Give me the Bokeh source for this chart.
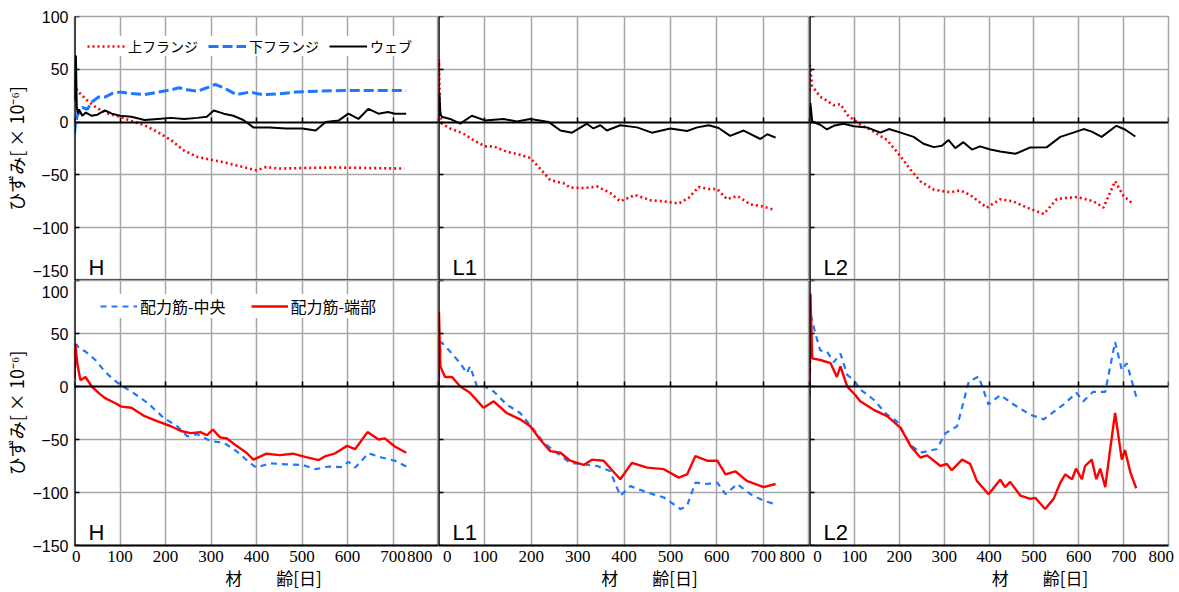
from bokeh.plotting import figure
from bokeh.layouts import column, row
from bokeh.models import (FixedTicker, LinearAxis, Range1d, Legend, LegendItem,
                          Label, Grid)
from bokeh.embed import file_html
from bokeh.resources import INLINE

# ---------------- data (strain x10^-6 vs age in days) ----------------
# Top row: flanges / web
H_upper_day = [0, 3, 10, 24, 40, 53, 74, 100, 125, 154, 183, 212, 241, 270, 300, 328, 356, 385, 400, 421, 450, 501, 573, 646, 725]
H_upper_val = [36, 32, 28, 22, 16, 12.6, 8, 5, 1, -3, -9.5, -17, -27, -33, -35.6, -38, -41, -44, -45.7, -42.6, -44, -43.5, -43, -43.5, -44]
H_lower_day = [0, 2, 6, 17, 28, 38, 53, 67, 82, 100, 125, 154, 183, 212, 230, 248, 270, 291, 309, 328, 356, 385, 414, 450, 487, 537, 609, 682, 729]
H_lower_val = [-11, -2, 6, 14, 12, 19, 23.7, 23.7, 27, 28.4, 27, 26, 28.4, 30.6, 32.5, 30.6, 29.3, 32.5, 35.6, 32.5, 26, 28.4, 26, 26.8, 28.4, 29.3, 30, 30, 30]
H_web_day = [0, 3, 5, 7, 10, 17, 25, 38, 50, 67, 82, 100, 125, 154, 183, 212, 241, 270, 291, 306, 328, 349, 371, 393, 429, 465, 501, 530, 552, 581, 602, 624, 646, 668, 689, 704, 729]
H_web_val = [20, 63, 15, 8, 12, 6, 9, 6, 7, 11, 8, 6, 5, 2, 3, 4, 3, 4, 5, 11, 8, 6, 2, -5, -5, -6, -6, -8, 0, 1.6, 8, 3, 12.6, 8, 9.5, 8, 8]

L1_upper_day = [0, 1, 3, 7, 25, 54, 75, 100, 119, 147, 176, 198, 219, 241, 270, 284, 313, 342, 370, 392, 424, 457, 486, 518, 539, 561, 583, 601, 622, 644, 673, 701, 723]
L1_upper_val = [5, 59, 10, -1.5, -6, -11, -17, -23, -23, -28, -31, -34, -44, -55, -58, -62, -62.5, -61, -67, -75, -69, -74, -75, -77, -72, -61.5, -63.4, -63.4, -73, -70, -78, -80, -83]
L1_web_day = [0, 2, 4, 7, 25, 47, 72, 100, 140, 169, 198, 238, 263, 288, 320, 334, 349, 363, 392, 428, 460, 500, 536, 558, 583, 604, 629, 658, 694, 709, 727]
L1_web_val = [5, 28, 8, 5, 3, -1.5, 6, 1.6, 3, 0.6, 3, 0, -8, -10, -1.5, -6, -3, -8, -3, -5, -10, -6, -8.4, -5, -3, -5.6, -13, -8, -16, -11.5, -14.7]

L2_upper_day = [0, 1, 6, 24, 36, 54, 69, 84, 99, 114, 143, 173, 203, 225, 247, 277, 314, 336, 358, 395, 425, 453, 485, 522, 551, 566, 596, 633, 655, 681, 700, 722]
L2_upper_val = [30, 54, 34, 24, 21, 16, 17, 7, 2, -2.5, -9, -17, -32.5, -45, -56, -64, -66.5, -64.7, -69, -81, -73, -75, -81, -87, -73, -72, -71, -75, -81, -56, -70, -78]
L2_web_day = [0, 2, 6, 24, 39, 54, 76, 99, 128, 158, 177, 203, 232, 254, 277, 295, 310, 325, 343, 362, 380, 403, 425, 459, 492, 529, 559, 588, 611, 629, 651, 684, 703, 726]
L2_web_val = [5, 18, 0.6, -2.5, -7, -3.5, -1.6, -4, -5, -10, -6.6, -10, -14, -20.5, -23.7, -22.4, -17, -24.6, -19, -26, -23, -26, -27.8, -30, -24, -23.7, -14, -10, -6.6, -9, -14, -3.5, -7, -13.6]

# Bottom row: distribution bars (centre / end)
H_mid_day = [0, 2, 4, 10, 24, 46, 67, 82, 100, 125, 161, 197, 226, 248, 270, 299, 328, 356, 385, 400, 429, 465, 501, 530, 559, 588, 602, 617, 646, 675, 704, 729]
H_mid_val = [-3, 30, 40, 36, 33, 25, 14, 8, 1.6, -4.7, -15.6, -30, -37.5, -47, -45, -51.5, -53, -61, -72, -76.5, -72.5, -73.4, -74, -78, -75.5, -76, -71, -76.5, -63, -67, -70, -75.5]
H_end_day = [0, 2, 6, 13, 24, 38, 53, 67, 89, 103, 125, 154, 183, 212, 234, 255, 277, 291, 304, 320, 335, 356, 378, 393, 422, 451, 480, 509, 537, 552, 573, 599, 617, 644, 668, 682, 704, 729]
H_end_val = [9, 40, 22, 6, 9, 0, -6, -11, -15.6, -19, -20, -28, -33, -37.5, -42, -44, -43, -46, -40.6, -48, -49, -56, -62.5, -69, -63.4, -64.7, -63.4, -66.6, -69.4, -65.6, -63, -56, -59, -43, -50, -49, -56.6, -62.5]

L1_mid_day = [0, 3, 6, 25, 47, 61, 68, 83, 100, 119, 147, 176, 205, 227, 255, 284, 313, 342, 370, 392, 414, 450, 486, 522, 536, 554, 579, 601, 619, 644, 673, 701, 727]
L1_mid_val = [-1.5, 30, 42, 33, 22, 12.5, 19, 0, 0, -4.7, -17, -25, -40.6, -53, -62.5, -72, -73.4, -75, -79.7, -103, -94, -100, -104.7, -115.6, -112.5, -90.6, -92, -90.6, -101.6, -92, -101.6, -107.8, -111]
L1_end_day = [0, 1, 4, 14, 29, 47, 68, 97, 119, 147, 176, 198, 219, 241, 263, 284, 313, 331, 356, 392, 417, 450, 486, 518, 536, 554, 579, 601, 619, 640, 665, 701, 727]
L1_end_val = [0, 70, 19, 9, 9, 0, -6, -20, -14, -25, -31, -37.5, -50, -61, -62.5, -70, -74, -69, -70, -87.5, -72, -76.5, -78, -86, -83, -65.6, -70, -70, -83, -80, -89, -95, -92]

L2_mid_day = [0, 4, 13, 24, 39, 54, 69, 84, 99, 114, 143, 173, 195, 225, 247, 284, 303, 329, 355, 377, 399, 425, 455, 492, 522, 566, 595, 610, 632, 659, 681, 696, 707, 729]
L2_mid_val = [-9, 65.6, 50, 34, 33, 23, 31, 11, 6, -3, -12.5, -26.6, -33, -55, -62.5, -59, -44, -37.5, 4.7, 9.4, -17, -8, -17, -26.6, -31, -17, -6, -14, -5, -5, 42, 15.6, 22, -11]
L2_end_day = [0, 2, 6, 24, 47, 61, 69, 84, 102, 113, 143, 173, 203, 225, 247, 262, 292, 306, 317, 340, 358, 373, 399, 425, 436, 447, 470, 492, 503, 525, 544, 559, 570, 585, 594, 607, 614, 629, 639, 648, 659, 669, 681, 696, 703, 715, 728]
L2_end_val = [0, 87.5, 26.6, 25, 22, 9, 19, 0, -8, -14, -22, -28, -39, -56, -67, -65, -75, -73, -79, -69, -73, -89, -101.6, -88, -95, -90, -103, -106, -105, -115.6, -106, -90.6, -83, -87.5, -77.5, -87.5, -75, -69, -87.5, -77.5, -95, -62.5, -25, -69, -60, -81, -96]

panel_names = ["H", "L1", "L2"]
top_series_names = ["上フランジ", "下フランジ", "ウェブ"]
bottom_series_names = ["配力筋-中央", "配力筋-端部"]

X_TICKS = [0, 100, 200, 300, 400, 500, 600, 700, 800]
X_TICK_LABELS = ["0", "100", "200", "300", "400", "500", "600", "700", "800"]
Y_TICKS = [-150, -100, -50, 0, 50, 100]
Y_TICK_LABELS = ["\u2212150", "\u2212100", "\u221250", "0", "50", "100"]
Y_TITLE = "ひずみ[ × 10\u207b\u2076]"
X_TITLE = "材\u3000\u3000齢[日]"

# ---------------- styling ----------------
GRID = "#a6a6a6"
RED = "#ff0000"
BLUE = "#1e78ff"
NUM_FONT = "Liberation Sans"
NARROW_FONT = "Liberation Sans Narrow"
JP_FONT = "Noto Sans CJK JP"

FIG_W = [438, 371, 370]
BORDER_L = [69, 0, 0]
BORDER_R = [0, 0, 11]
FIG_H = [280, 312]
BORDER_T = [16, 0]
BORDER_B = [0, 45]
# pixel shift of edge tick labels (first, last)
X_LABEL_SHIFT = [(2, 19), (9, 17), (8, 7)]
Y_LABEL_SHIFT = [(10, 0), (0, 12)]   # (bottom label up, top label down)
X_TITLE_PAD = [2, 3, 6]


def shifted(ticks, labels, lo_px, hi_px, units_per_px):
    pos = list(ticks)
    pos[0] = int(round(ticks[0] + lo_px * units_per_px))
    pos[-1] = int(round(ticks[-1] - hi_px * units_per_px))
    return pos, {p: l for p, l in zip(pos, labels)}


def make_panel(ci, ri):
    p = figure(width=FIG_W[ci], height=FIG_H[ri],
               x_range=Range1d(0, 800), y_range=Range1d(-150, 100),
               output_backend="svg", toolbar_location=None,
               x_axis_location=None, y_axis_location=None,
               min_border_left=BORDER_L[ci], min_border_right=BORDER_R[ci],
               min_border_top=BORDER_T[ri], min_border_bottom=BORDER_B[ri])
    p.outline_line_color = GRID
    p.outline_line_width = 1.5
    p.background_fill_color = "white"
    p.border_fill_color = "white"

    fw = FIG_W[ci] - BORDER_L[ci] - BORDER_R[ci]
    fh = FIG_H[ri] - BORDER_T[ri] - BORDER_B[ri]

    p.add_layout(Grid(dimension=0, ticker=FixedTicker(ticks=X_TICKS[1:]),
                      grid_line_color=GRID, grid_line_width=1.5))
    p.add_layout(Grid(dimension=1, ticker=FixedTicker(ticks=[-100, -50, 50, 100]),
                      grid_line_color=GRID, grid_line_width=1.5))

    # labelled y axis (left column only)
    if ci == 0:
        ypos, yover = shifted(Y_TICKS, Y_TICK_LABELS, Y_LABEL_SHIFT[ri][0],
                              Y_LABEL_SHIFT[ri][1], 250.0 / fh)
        ya = LinearAxis(ticker=FixedTicker(ticks=ypos), major_label_overrides=yover,
                        major_tick_in=0, major_tick_out=0, axis_line_color=None,
                        major_label_standoff=6,
                        major_label_text_font=NUM_FONT, major_label_text_font_size="16px",
                        major_label_text_color="black",
                        axis_label=Y_TITLE, axis_label_standoff=0,
                        axis_label_text_font=JP_FONT, axis_label_text_font_size="18px",
                        axis_label_text_font_style="normal", axis_label_text_color="black")
        p.add_layout(ya, "left")
    # black left axis line with inner ticks
    yf = LinearAxis(fixed_location=0, ticker=FixedTicker(ticks=Y_TICKS),
                    major_tick_in=5, major_tick_out=0, major_label_text_color=None,
                    axis_line_color="black", axis_line_width=2.5,
                    major_tick_line_color="black", major_tick_line_width=1.5)
    p.add_layout(yf, "left")

    # bottom axis
    if ri == 1:
        xpos, xover = shifted(X_TICKS, X_TICK_LABELS, X_LABEL_SHIFT[ci][0],
                              X_LABEL_SHIFT[ci][1], 800.0 / fw)
        xa = LinearAxis(ticker=FixedTicker(ticks=xpos), major_label_overrides=xover,
                        major_tick_in=0, major_tick_out=0,
                        axis_line_color="black", axis_line_width=2,
                        major_label_standoff=5,
                        major_label_text_font=NARROW_FONT, major_label_text_font_size="17px",
                        major_label_text_color="black",
                        axis_label="\u3000" * X_TITLE_PAD[ci] + X_TITLE,
                        axis_label_standoff=0,
                        axis_label_text_font=JP_FONT, axis_label_text_font_size="17px",
                        axis_label_text_font_style="normal", axis_label_text_color="black")
        p.add_layout(xa, "below")
    else:
        xb = LinearAxis(fixed_location=-150, ticker=FixedTicker(ticks=[]),
                        major_tick_in=0, major_tick_out=0, major_label_text_color=None,
                        axis_line_color="black", axis_line_width=2)
        p.add_layout(xb, "below")
    # zero line with inner ticks
    xz = LinearAxis(fixed_location=0, ticker=FixedTicker(ticks=X_TICKS),
                    major_tick_in=5, major_tick_out=0, major_label_text_color=None,
                    axis_line_color="black", axis_line_width=1.8,
                    major_tick_line_color="black", major_tick_line_width=1.5)
    p.add_layout(xz, "below")

    lab = Label(x=0, y=-150, x_offset=14, y_offset=13, text=panel_names[ci],
                text_font=NUM_FONT, text_font_size="22px", text_color="black",
                text_baseline="alphabetic")
    p.add_layout(lab)
    return p, fh


top_data = [
    [(H_upper_day, H_upper_val), (H_lower_day, H_lower_val), (H_web_day, H_web_val)],
    [(L1_upper_day, L1_upper_val), None, (L1_web_day, L1_web_val)],
    [(L2_upper_day, L2_upper_val), None, (L2_web_day, L2_web_val)],
]
bottom_data = [
    [(H_mid_day, H_mid_val), (H_end_day, H_end_val)],
    [(L1_mid_day, L1_mid_val), (L1_end_day, L1_end_val)],
    [(L2_mid_day, L2_mid_val), (L2_end_day, L2_end_val)],
]

top_styles = [dict(line_color=RED, line_width=2.6, line_dash="2 3"),
              dict(line_color=BLUE, line_width=3, line_dash="10 4"),
              dict(line_color="black", line_width=2)]
bottom_styles = [dict(line_color=BLUE, line_width=2.2, line_dash="6 5"),
                 dict(line_color=RED, line_width=2.4)]

top_figs, bottom_figs = [], []
for ci in range(3):
    p, fh = make_panel(ci, 0)
    items = []
    for si, d in enumerate(top_data[ci]):
        if d is None:
            continue
        r = p.line(d[0], d[1], **top_styles[si])
        items.append(LegendItem(label=top_series_names[si], renderers=[r]))
    if ci == 0:
        leg = Legend(items=items, orientation="horizontal", location=(13, fh - 40),
                     padding=10, margin=0, spacing=10, label_standoff=3,
                     glyph_width=38, glyph_height=20, label_height=20,
                     label_text_font=JP_FONT, label_text_font_size="14px",
                     label_text_color="black", border_line_color=None,
                     background_fill_color="white", background_fill_alpha=1.0)
        p.add_layout(leg)
    top_figs.append(p)

for ci in range(3):
    p, fh = make_panel(ci, 1)
    items = []
    for si, d in enumerate(bottom_data[ci]):
        r = p.line(d[0], d[1], **bottom_styles[si])
        items.append(LegendItem(label=bottom_series_names[si], renderers=[r]))
    if ci == 0:
        leg = Legend(items=items, orientation="horizontal", location=(26, fh - 40),
                     padding=10, margin=0, spacing=25, label_standoff=3,
                     glyph_width=37, glyph_height=20, label_height=20,
                     label_text_font=JP_FONT, label_text_font_size="16px",
                     label_text_color="black", border_line_color=None,
                     background_fill_color="white", background_fill_alpha=1.0)
        p.add_layout(leg)
    bottom_figs.append(p)

layout = column(row(*top_figs), row(*bottom_figs))
open("out.html", "w").write(file_html(layout, INLINE))
